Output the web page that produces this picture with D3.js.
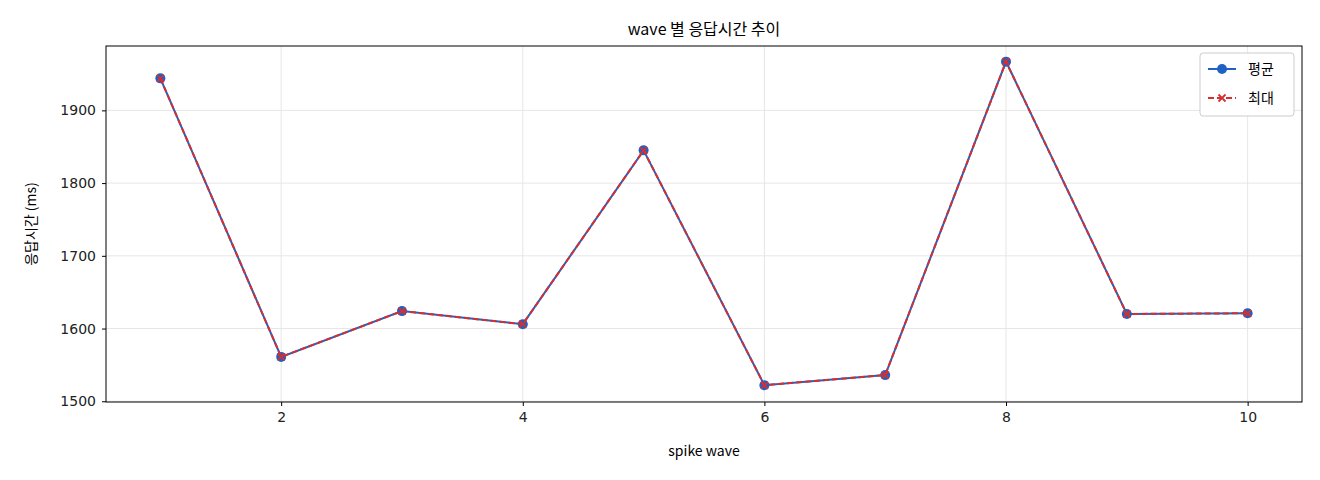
<!DOCTYPE html>
<html><head><meta charset="utf-8">
<script src="https://cdn.jsdelivr.net/npm/d3@7"></script>
<style>body{margin:0;background:#fff}text{font-family:"Noto Sans CJK KR","Noto Sans",sans-serif;}</style>
</head><body><svg id="c" width="1320" height="480"></svg>
<script>
const waves=[1,2,3,4,5,6,7,8,9,10];
const avgMs=[1944,1561,1624,1606,1845,1522,1536,1967,1620,1621];
const maxMs=[1944,1561,1624,1606,1845,1522,1536,1967,1620,1621];
const yTicks=[1500,1600,1700,1800,1900];
const xTicks=[2,4,6,8,10];
const svg=d3.select("#c");
const L=106,R=1302,T=46,B=402;
const x=d3.scaleLinear().domain([0.55,10.45]).range([L,R]);
const y=d3.scaleLinear().domain([1499,1988.5]).range([B,T]);
const g=svg.append("g");
g.selectAll(".gx").data(xTicks).enter().append("line").attr("x1",d=>x(d)).attr("x2",d=>x(d)).attr("y1",T).attr("y2",B).attr("stroke","#e6e6e6");
g.selectAll(".gy").data(yTicks).enter().append("line").attr("y1",d=>y(d)).attr("y2",d=>y(d)).attr("x1",L).attr("x2",R).attr("stroke","#e6e6e6");
const xa=svg.append("g").attr("transform",`translate(0,${B})`).call(d3.axisBottom(x).tickValues(xTicks).tickFormat(d3.format("d")).tickSize(4).tickPadding(6));
const ya=svg.append("g").attr("transform",`translate(${L},0)`).call(d3.axisLeft(y).tickValues(yTicks).tickFormat(d3.format("d")).tickSize(4).tickPadding(6));
[xa,ya].forEach(a=>{a.select(".domain").remove();a.selectAll("text").attr("font-size",14).attr("fill","#222").style("font-family","'DejaVu Sans',sans-serif");});
svg.append("rect").attr("x",L).attr("y",T).attr("width",R-L).attr("height",B-T).attr("fill","none").attr("stroke","#000");
const line=d3.line().x((d,i)=>x(waves[i])).y(d=>y(d));
svg.append("path").datum(avgMs).attr("d",line).attr("fill","none").attr("stroke","#1f62c4").attr("stroke-width",2);
svg.selectAll(".m").data(avgMs).enter().append("circle").attr("cx",(d,i)=>x(waves[i])).attr("cy",d=>y(d)).attr("r",5).attr("fill","#1f62c4");
svg.append("path").datum(maxMs).attr("d",line).attr("fill","none").attr("stroke","#d62f2f").attr("stroke-width",2).attr("stroke-dasharray","6,3");
const xm=(px,py,s)=>`M${px-s},${py-s}L${px+s},${py+s}M${px-s},${py+s}L${px+s},${py-s}`;
svg.selectAll(".x").data(maxMs).enter().append("path").attr("d",(d,i)=>xm(x(waves[i]),y(d),3.5)).attr("stroke","#d62f2f").attr("stroke-width",1.8);
svg.append("text").attr("x",(L+R)/2).attr("y",35).attr("text-anchor","middle").attr("font-size",16).text("wave 별 응답시간 추이");
svg.append("text").attr("x",(L+R)/2).attr("y",456).attr("text-anchor","middle").attr("font-size",14).text("spike wave");
svg.append("text").attr("transform",`translate(36,${(T+B)/2}) rotate(-90)`).attr("text-anchor","middle").attr("font-size",14).text("응답시간 (ms)");
const lg=svg.append("g");
lg.append("rect").attr("x",1200).attr("y",53).attr("width",94).attr("height",63).attr("rx",3).attr("fill","#fff").attr("stroke","#ccc");
lg.append("line").attr("x1",1208).attr("x2",1236).attr("y1",69).attr("y2",69).attr("stroke","#1f62c4").attr("stroke-width",2);
lg.append("circle").attr("cx",1222).attr("cy",69).attr("r",5).attr("fill","#1f62c4");
lg.append("text").attr("x",1248).attr("y",74).attr("font-size",14).text("평균");
lg.append("line").attr("x1",1208).attr("x2",1236).attr("y1",98).attr("y2",98).attr("stroke","#d62f2f").attr("stroke-width",2).attr("stroke-dasharray","6,3");
lg.append("path").attr("d",xm(1222,98,3.5)).attr("stroke","#d62f2f").attr("stroke-width",1.8);
lg.append("text").attr("x",1248).attr("y",103).attr("font-size",14).text("최대");
</script></body></html>
